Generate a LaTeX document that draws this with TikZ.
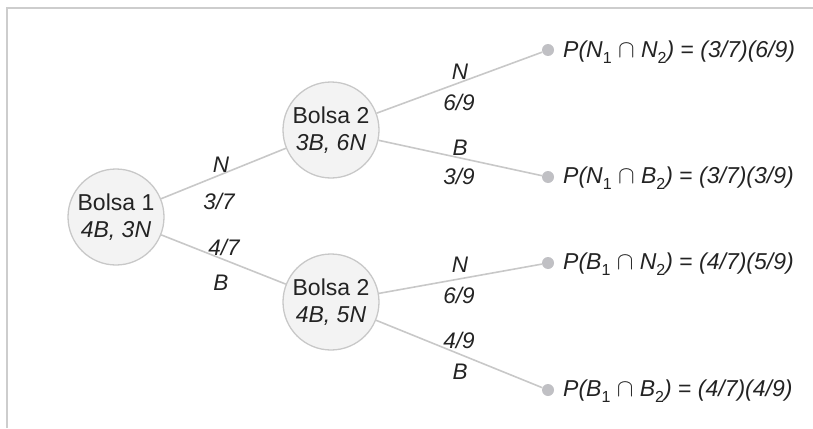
\documentclass[tikz,border=0pt]{standalone}
\usepackage{fontspec}
\setmainfont{Liberation Sans}
\definecolor{linegray}{RGB}{200,200,200}
\definecolor{framegray}{RGB}{205,205,205}
\definecolor{nodefill}{RGB}{243,243,243}
\definecolor{dotgray}{RGB}{192,192,196}
\definecolor{txt}{RGB}{35,35,35}
\newcommand{\sbt}[1]{\raisebox{-0.28em}{\fontsize{16}{16}\selectfont\upshape #1}}
\newcommand{\capx}{ {\upshape$\cap$} }
\newcommand{\eqx}{ {\upshape =} }
\tikzset{
  bag/.style={circle, draw=linegray, line width=1.3pt, fill=nodefill, minimum size=96pt, inner sep=0pt, align=center, font=\fontsize{23}{27}\selectfont},
  edge/.style={draw=linegray, line width=1.6pt},
  leafdot/.style={circle, fill=dotgray, minimum size=12pt, inner sep=0pt},
  result/.style={anchor=base west, inner sep=0pt, font=\fontsize{23}{27}\selectfont\itshape},
  prob/.style={inner sep=0pt, font=\fontsize{22.5}{26}\selectfont\itshape},
  framestyle/.style={draw=framegray, line width=2pt}
}
\begin{document}
\begin{tikzpicture}[x=1pt, y=-1pt, text=txt]
\useasboundingbox (0,0) rectangle (813,428);
\draw[framestyle] (7,428) -- (7,8) -- (813,8);

\node[bag] (b1) at (116,217) {Bolsa 1\\\textit{4B, 3N}};
\node[bag] (b2a) at (331,130) {Bolsa 2\\\textit{3B, 6N}};
\node[bag] (b2b) at (331,302) {Bolsa 2\\\textit{4B, 5N}};

\node[leafdot] (l1) at (548,50) {};
\node[leafdot] (l2) at (548,177) {};
\node[leafdot] (l3) at (548,263) {};
\node[leafdot] (l4) at (548,390) {};

\draw[edge] (b1) -- (b2a);
\draw[edge] (b1) -- (b2b);
\draw[edge] (b2a) -- (l1);
\draw[edge] (b2a) -- (l2);
\draw[edge] (b2b) -- (l3);
\draw[edge] (b2b) -- (l4);

\node[result] (r1) at (563,57) {P(N\sbt{1}\capx N\sbt{2})\eqx(3/7)(6/9)};
\node[result] (r2) at (563,183) {P(N\sbt{1}\capx B\sbt{2})\eqx(3/7)(3/9)};
\node[result] (r3) at (563,269) {P(B\sbt{1}\capx N\sbt{2})\eqx(4/7)(5/9)};
\node[result] (r4) at (563,396) {P(B\sbt{1}\capx B\sbt{2})\eqx(4/7)(4/9)};

\node[prob] (p1) at (221,165) {N};
\node[prob] (p2) at (219,201) {3/7};
\node[prob] (p3) at (224,247) {4/7};
\node[prob] (p4) at (221,283) {B};

\node[prob] (p5) at (460,72) {N};
\node[prob] (p6) at (459,102) {6/9};
\node[prob] (p7) at (460,148) {B};
\node[prob] (p8) at (459,176) {3/9};

\node[prob] (p9) at (460,265) {N};
\node[prob] (p10) at (459,295) {6/9};
\node[prob] (p11) at (459,340) {4/9};
\node[prob] (p12) at (460,372) {B};
\end{tikzpicture}
\end{document}
